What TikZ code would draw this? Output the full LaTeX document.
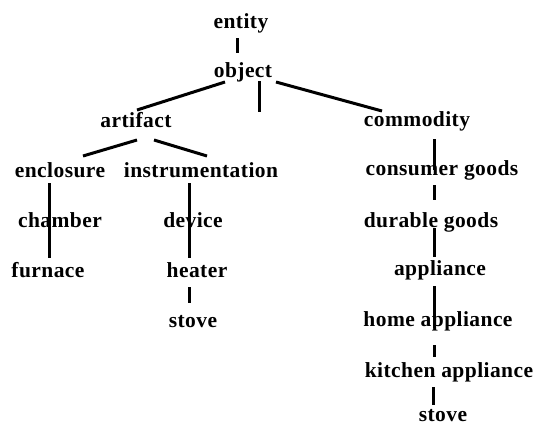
\documentclass[tikz,border=0pt]{standalone}
\usepackage{fontspec}
\setmainfont{Liberation Serif}[LetterSpace=2]
\begin{document}
\begin{tikzpicture}[x=1pt,y=-1pt,
  lbl/.style={anchor=base,inner sep=0pt,font=\fontsize{21.5}{21.5}\selectfont\bfseries},
  edge/.style={line width=3pt}]
\useasboundingbox (0,0) rectangle (534,426);
\node[lbl] (entity) at (241,28) {entity};
\node[lbl] (object) at (243,77) {object};
\node[lbl] (artifact) at (136,127) {artifact};
\node[lbl] (commodity) at (417,126) {commodity};
\node[lbl] (enclosure) at (60,177) {enclosure};
\node[lbl] (instrumentation) at (201,177) {instrumentation};
\node[lbl] (chamber) at (60,227) {chamber};
\node[lbl] (device) at (193,227) {device};
\node[lbl] (furnace) at (48,277) {furnace};
\node[lbl] (heater) at (197,277) {heater};
\node[lbl] (stoveA) at (193,327) {stove};
\node[lbl] (consumer) at (442,175) {consumer goods};
\node[lbl] (durable) at (431,227) {durable goods};
\node[lbl] (appliance) at (440,275) {appliance};
\node[lbl] (home) at (438,326) {home appliance};
\node[lbl] (kitchen) at (449,377) {kitchen appliance};
\node[lbl] (stoveB) at (443,421) {stove};
\coordinate (midend) at ([shift={(16,35)}]object.base);
% connectors
\draw[edge] ([shift={(-4,10)}]entity.base) -- ([shift={(-6,-24)}]object.base);
\draw[edge] ([shift={(-18,5)}]object.base) -- ([shift={(1,-17)}]artifact.base);
\draw[edge] ([shift={(16,4)}]object.base) -- (midend);
\draw[edge] ([shift={(33,5)}]object.base) -- ([shift={(-35,-15)}]commodity.base);
\draw[edge] ([shift={(1,13)}]artifact.base) -- ([shift={(23,-21)}]enclosure.base);
\draw[edge] ([shift={(18,13)}]artifact.base) -- ([shift={(6,-21)}]instrumentation.base);
\draw[edge] ([shift={(-11,6)}]enclosure.base) -- ([shift={(1,-19)}]furnace.base);
\draw[edge] ([shift={(-12,6)}]instrumentation.base) -- ([shift={(-8,-19)}]heater.base);
\draw[edge] ([shift={(-8,10)}]heater.base) -- ([shift={(-4,-24)}]stoveA.base);
\draw[edge] ([shift={(17,13)}]commodity.base) -- ([shift={(-8,-5)}]consumer.base);
\draw[edge] ([shift={(-8,10)}]consumer.base) -- ([shift={(3,-27)}]durable.base);
\draw[edge] ([shift={(3,1)}]durable.base) -- ([shift={(-6,-18)}]appliance.base);
\draw[edge] ([shift={(-6,11)}]appliance.base) -- ([shift={(-4,2)}]home.base);
\draw[edge] ([shift={(-4,19)}]home.base) -- ([shift={(-15,-20)}]kitchen.base);
\draw[edge] ([shift={(-16,10)}]kitchen.base) -- ([shift={(-10,-16)}]stoveB.base);
\end{tikzpicture}
\end{document}
